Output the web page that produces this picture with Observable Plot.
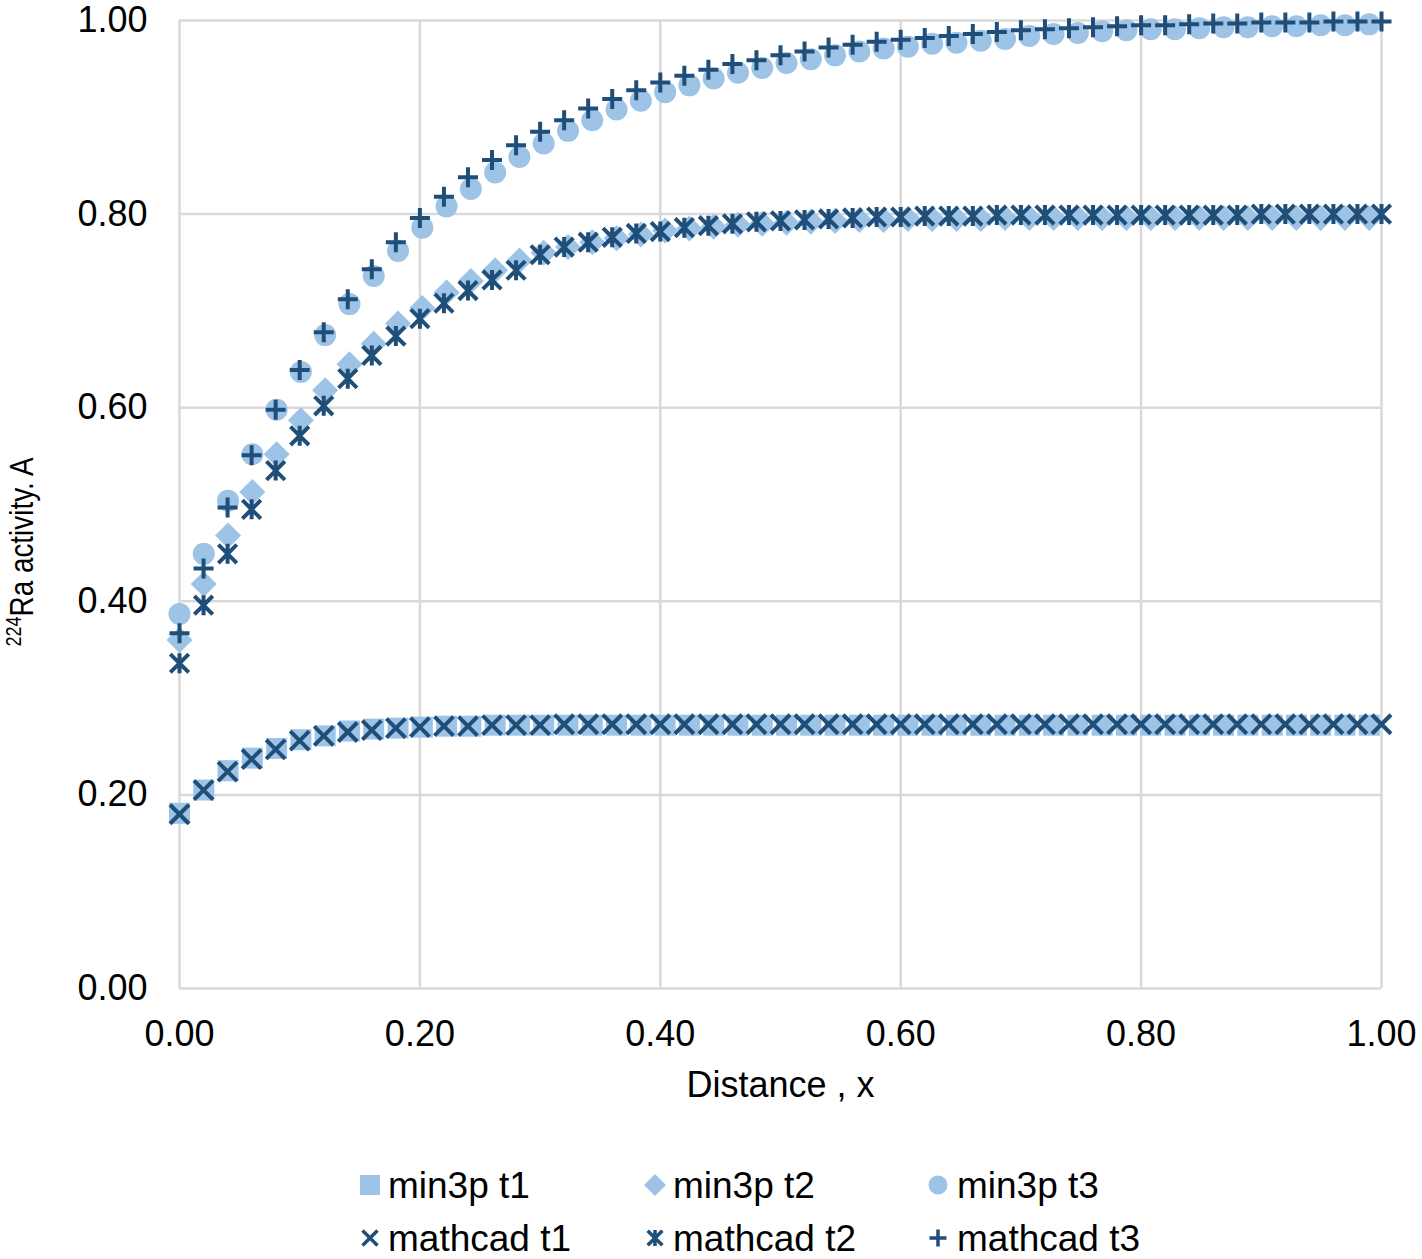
<!DOCTYPE html>
<html>
<head>
<meta charset="utf-8">
<script src="https://cdn.jsdelivr.net/npm/d3@7"></script>
<script src="https://cdn.jsdelivr.net/npm/@observablehq/plot@0.6"></script>
<style>
  body { margin: 0; background: #fff; font-family: "Liberation Sans", Arial, sans-serif; }
  #wrap { width: 1422px; position: relative; }
  #legend { position: relative; width: 1422px; height: 129px; }
  .item { position: absolute; display: block; }
  .lab { position: absolute; font-size: 37px; line-height: 1; color: #000; white-space: nowrap; transform: translateY(-50%); }
</style>
</head>
<body>
<div id="wrap"><div id="chart"></div><div id="legend"></div></div>
<script>
// ---- data ----
const seriesNames = ["min3p t1", "min3p t2", "min3p t3", "mathcad t1", "mathcad t2", "mathcad t3"];
const xTicks = [0, 0.2, 0.4, 0.6, 0.8, 1.0];
const yTicks = [0, 0.2, 0.4, 0.6, 0.8, 1.0];

const xMathcad = [0,0.02,0.04,0.06,0.08,0.10,0.12,0.14,0.16,0.18,0.20,0.22,0.24,0.26,0.28,0.30,0.32,0.34,0.36,0.38,0.40,0.42,0.44,0.46,0.48,0.50,0.52,0.54,0.56,0.58,0.60,0.62,0.64,0.66,0.68,0.70,0.72,0.74,0.76,0.78,0.80,0.82,0.84,0.86,0.88,0.90,0.92,0.94,0.96,0.98,1.00];
const xMin3p = [0,0.0202,0.0404,0.0606,0.0808,0.101,0.1212,0.1414,0.1616,0.1818,0.202,0.2222,0.2424,0.2626,0.2828,0.303,0.3232,0.3434,0.3636,0.3838,0.404,0.4242,0.4444,0.4646,0.4848,0.505,0.5252,0.5454,0.5656,0.5858,0.606,0.6262,0.6464,0.6666,0.6868,0.707,0.7272,0.7474,0.7676,0.7878,0.808,0.8282,0.8484,0.8686,0.8888,0.909,0.9292,0.9494,0.9696,0.9898];

const min3pT1 = [0.181,0.205,0.225,0.238,0.248,0.257,0.261,0.266,0.268,0.269,0.270,0.271,0.271,0.272,0.272,0.272,0.272,0.272,0.272,0.272,0.272,0.272,0.272,0.272,0.272,0.272,0.272,0.272,0.272,0.272,0.272,0.272,0.272,0.272,0.272,0.272,0.272,0.272,0.272,0.272,0.272,0.272,0.272,0.272,0.272,0.272,0.272,0.272,0.272,0.272];
const min3pT2 = [0.360,0.418,0.468,0.513,0.552,0.587,0.618,0.645,0.666,0.687,0.703,0.719,0.731,0.742,0.752,0.760,0.766,0.771,0.775,0.779,0.783,0.785,0.787,0.789,0.790,0.791,0.792,0.793,0.794,0.794,0.795,0.795,0.795,0.795,0.796,0.796,0.796,0.796,0.796,0.796,0.796,0.796,0.796,0.796,0.796,0.796,0.796,0.796,0.796,0.796];
const min3pT3 = [0.387,0.449,0.504,0.552,0.598,0.637,0.675,0.707,0.736,0.762,0.786,0.808,0.826,0.843,0.859,0.873,0.886,0.897,0.908,0.917,0.926,0.933,0.940,0.946,0.951,0.956,0.960,0.964,0.968,0.971,0.973,0.976,0.977,0.979,0.981,0.984,0.986,0.987,0.989,0.990,0.991,0.991,0.992,0.993,0.993,0.994,0.994,0.995,0.995,0.996];
const mathcadT1 = [0.180,0.205,0.224,0.237,0.247,0.256,0.261,0.265,0.267,0.269,0.270,0.271,0.271,0.272,0.272,0.272,0.273,0.273,0.273,0.273,0.273,0.273,0.273,0.273,0.273,0.273,0.273,0.273,0.273,0.273,0.273,0.273,0.273,0.273,0.273,0.273,0.273,0.273,0.273,0.273,0.273,0.273,0.273,0.273,0.273,0.273,0.273,0.273,0.273,0.273,0.273];
const mathcadT2 = [0.336,0.396,0.449,0.495,0.535,0.571,0.602,0.630,0.654,0.674,0.692,0.708,0.721,0.732,0.742,0.758,0.766,0.771,0.776,0.780,0.782,0.786,0.788,0.790,0.792,0.793,0.794,0.795,0.796,0.797,0.797,0.798,0.798,0.798,0.799,0.799,0.799,0.799,0.799,0.799,0.799,0.799,0.799,0.799,0.799,0.800,0.800,0.800,0.800,0.800,0.800];
const mathcadT3 = [0.367,0.434,0.497,0.551,0.598,0.639,0.678,0.712,0.743,0.771,0.796,0.818,0.838,0.856,0.871,0.885,0.897,0.909,0.919,0.928,0.936,0.943,0.949,0.955,0.959,0.964,0.968,0.972,0.975,0.978,0.980,0.982,0.984,0.986,0.988,0.990,0.991,0.992,0.993,0.994,0.995,0.995,0.996,0.997,0.997,0.998,0.998,0.998,0.999,0.999,0.999];

// ---- styles ----
const LIGHT = "#9dc3e6";
const DARK = "#1f4e79";
const rad = (size) => Math.sqrt(size / Math.PI);
const symSquare = {draw(c, s) { const r = rad(s); c.rect(-r, -r, 2 * r, 2 * r); }};
const symDiamond = {draw(c, s) { const r = rad(s); c.moveTo(0, -r); c.lineTo(r, 0); c.lineTo(0, r); c.lineTo(-r, 0); c.closePath(); }};
const symCircle = {draw(c, s) { const r = rad(s); c.moveTo(r, 0); c.arc(0, 0, r, 0, 2 * Math.PI); }};
const symTimes = {draw(c, s) { const r = rad(s); c.moveTo(-r, -r); c.lineTo(r, r); c.moveTo(-r, r); c.lineTo(r, -r); }};
const symAsterisk = {draw(c, s) { const r = rad(s); const d = r * 0.92; c.moveTo(-d, -d); c.lineTo(d, d); c.moveTo(-d, d); c.lineTo(d, -d); c.moveTo(0, -r); c.lineTo(0, r); }};
const symPlus = {draw(c, s) { const r = rad(s); c.moveTo(-r, 0); c.lineTo(r, 0); c.moveTo(0, -r); c.lineTo(0, r); }};

const rows = (xs, ys) => xs.map((x, i) => ({x, y: ys[i]}));

const series = [
  {name: seriesNames[0], data: rows(xMin3p, min3pT1), symbol: symSquare, r: 10.5, filled: true},
  {name: seriesNames[1], data: rows(xMin3p, min3pT2), symbol: symDiamond, r: 13, filled: true},
  {name: seriesNames[2], data: rows(xMin3p, min3pT3), symbol: symCircle, r: 11, filled: true},
  {name: seriesNames[3], data: rows(xMathcad, mathcadT1), symbol: symTimes, r: 9.5, filled: false},
  {name: seriesNames[4], data: rows(xMathcad, mathcadT2), symbol: symAsterisk, r: 10, filled: false},
  {name: seriesNames[5], data: rows(xMathcad, mathcadT3), symbol: symPlus, r: 10, filled: false}
];

const dotMarks = series.map(s => Plot.dot(s.data, {
  x: "x", y: "y", symbol: s.symbol, r: s.r,
  fill: s.filled ? LIGHT : "none",
  stroke: s.filled ? "none" : DARK,
  strokeWidth: s.filled ? 0 : 4
}));

const chart = Plot.plot({
  width: 1422,
  height: 1130,
  marginLeft: 179,
  marginRight: 41,
  marginTop: 20,
  marginBottom: 142,
  style: {fontFamily: "'Liberation Sans', Arial, sans-serif", fontSize: "36px", color: "#000", background: "#fff"},
  x: {domain: [0, 1]},
  y: {domain: [0, 1]},
  marks: [
    Plot.gridX({ticks: xTicks, stroke: "#d9d9d9", strokeOpacity: 1, strokeWidth: 2.5}),
    Plot.gridY({ticks: yTicks, stroke: "#d9d9d9", strokeOpacity: 1, strokeWidth: 2.5}),
    Plot.axisX({ticks: xTicks, tickFormat: d => d.toFixed(2), tickSize: 0, tickPadding: 32, label: null, fontSize: 36}),
    Plot.axisY({ticks: yTicks, tickFormat: d => d.toFixed(2), tickSize: 0, tickPadding: 32, label: null, fontSize: 36}),
    ...dotMarks,
    Plot.text(["Distance , x"], {frameAnchor: "bottom", dy: 108, fontSize: 36, fill: "#000"})
  ]
});
document.getElementById("chart").appendChild(chart);

// y-axis title with superscript
const svg = d3.select(chart);
const yt = svg.append("text")
  .attr("transform", "translate(33,552) rotate(-90) scale(0.82,1)")
  .attr("text-anchor", "middle")
  .attr("font-size", 34)
  .attr("fill", "#000");
yt.append("tspan").attr("font-size", 22).attr("dy", -12).text("224");
yt.append("tspan").attr("dy", 12).text("Ra activity. A");

// legend
const legend = d3.select("#legend");
const legendPos = [
  {mx: 370, tx: 388, y: 55}, {mx: 655, tx: 673, y: 55}, {mx: 938, tx: 957, y: 55},
  {mx: 370, tx: 388, y: 108}, {mx: 655, tx: 673, y: 108}, {mx: 938, tx: 957, y: 108}
];
const legendR = [10, 11, 9.5, 7.5, 8, 8.5];
series.forEach((s, i) => {
  const p = legendPos[i];
  const sz = 30;
  const sv = legend.append("svg").attr("class", "item")
    .attr("width", sz).attr("height", sz)
    .style("left", (p.mx - sz / 2) + "px").style("top", (p.y - sz / 2) + "px");
  const path = d3.path();
  const rr = legendR[i];
  s.symbol.draw(path, Math.PI * rr * rr);
  sv.append("path").attr("transform", `translate(${sz / 2},${sz / 2})`)
    .attr("d", path.toString())
    .attr("fill", s.filled ? LIGHT : "none")
    .attr("stroke", s.filled ? "none" : DARK)
    .attr("stroke-width", s.filled ? 0 : 3.5);
  legend.append("div").attr("class", "lab")
    .style("left", p.tx + "px").style("top", p.y + "px")
    .text(s.name);
});
</script>
</body>
</html>
